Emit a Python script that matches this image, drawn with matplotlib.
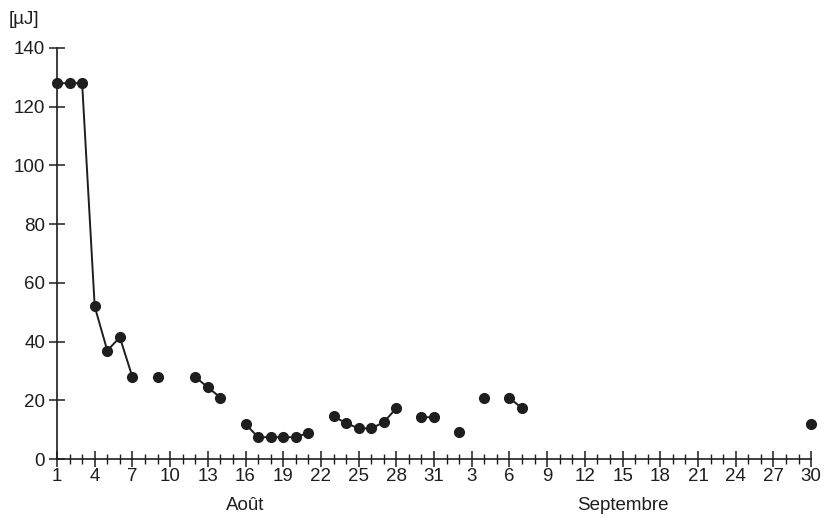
import numpy as np
import matplotlib
matplotlib.use("Agg")
import matplotlib.pyplot as plt
from matplotlib.ticker import MultipleLocator, FixedLocator

plt.rcParams['font.family'] = ['Liberation Sans', 'DejaVu Sans']

# Day index: 1..31 = August 1..31, 32..61 = September 1..30
days = list(range(1, 62))
values = {
    1: 128, 2: 128, 3: 128, 4: 52, 5: 37, 6: 41.5, 7: 28,
    9: 28,
    12: 28, 13: 24.5, 14: 21,
    16: 12, 17: 7.5, 18: 7.5, 19: 7.5, 20: 7.5, 21: 9,
    23: 14.6, 24: 12.3, 25: 10.5, 26: 10.5, 27: 12.6, 28: 17.4,
    30: 14.3, 31: 14.3,
    33: 9.2,
    35: 20.8,
    37: 20.8, 38: 17.4,
    61: 12,
}
series = [values.get(d, np.nan) for d in days]

tick_days = list(range(1, 32, 3)) + list(range(34, 62, 3))
tick_labels = [str(d) for d in range(1, 32, 3)] + [str(d - 31) for d in range(34, 62, 3)]
y_ticks = [0, 20, 40, 60, 80, 100, 120, 140]

col = '#1e1e1e'
fs = 13.5
fig = plt.figure(figsize=(8.26, 5.16), dpi=100)
ax = fig.add_axes([0.069, 0.110, 0.913, 0.797])
ax.plot(days, series, '-o', color=col, lw=1.4, ms=7, clip_on=False, zorder=3)

ax.set_xlim(1, 61)
ax.set_ylim(0, 140)
for s in ['top', 'right']:
    ax.spines[s].set_visible(False)
for s in ['left', 'bottom']:
    ax.spines[s].set_color(col)
    ax.spines[s].set_linewidth(1.2)

ax.xaxis.set_major_locator(FixedLocator(tick_days))
ax.set_xticklabels(tick_labels)
ax.xaxis.set_minor_locator(MultipleLocator(1))
ax.set_yticks(y_ticks)

ax.tick_params(axis='both', which='major', direction='inout', length=11, width=1.1,
               color=col, labelsize=fs, labelcolor=col)
ax.tick_params(axis='x', which='minor', direction='inout', length=7, width=1.0, color=col)
ax.tick_params(axis='x', which='major', pad=1)
ax.tick_params(axis='y', which='major', pad=3)

fig.text(0.010, 0.962, '[µJ]', fontsize=fs, color=col, ha='left', va='center')
ax.text(16, -0.112, 'Août', transform=ax.get_xaxis_transform(), fontsize=fs,
        color=col, ha='center', va='center')
ax.text(46, -0.112, 'Septembre', transform=ax.get_xaxis_transform(), fontsize=fs,
        color=col, ha='center', va='center')

fig.savefig('out.png', dpi=100)
